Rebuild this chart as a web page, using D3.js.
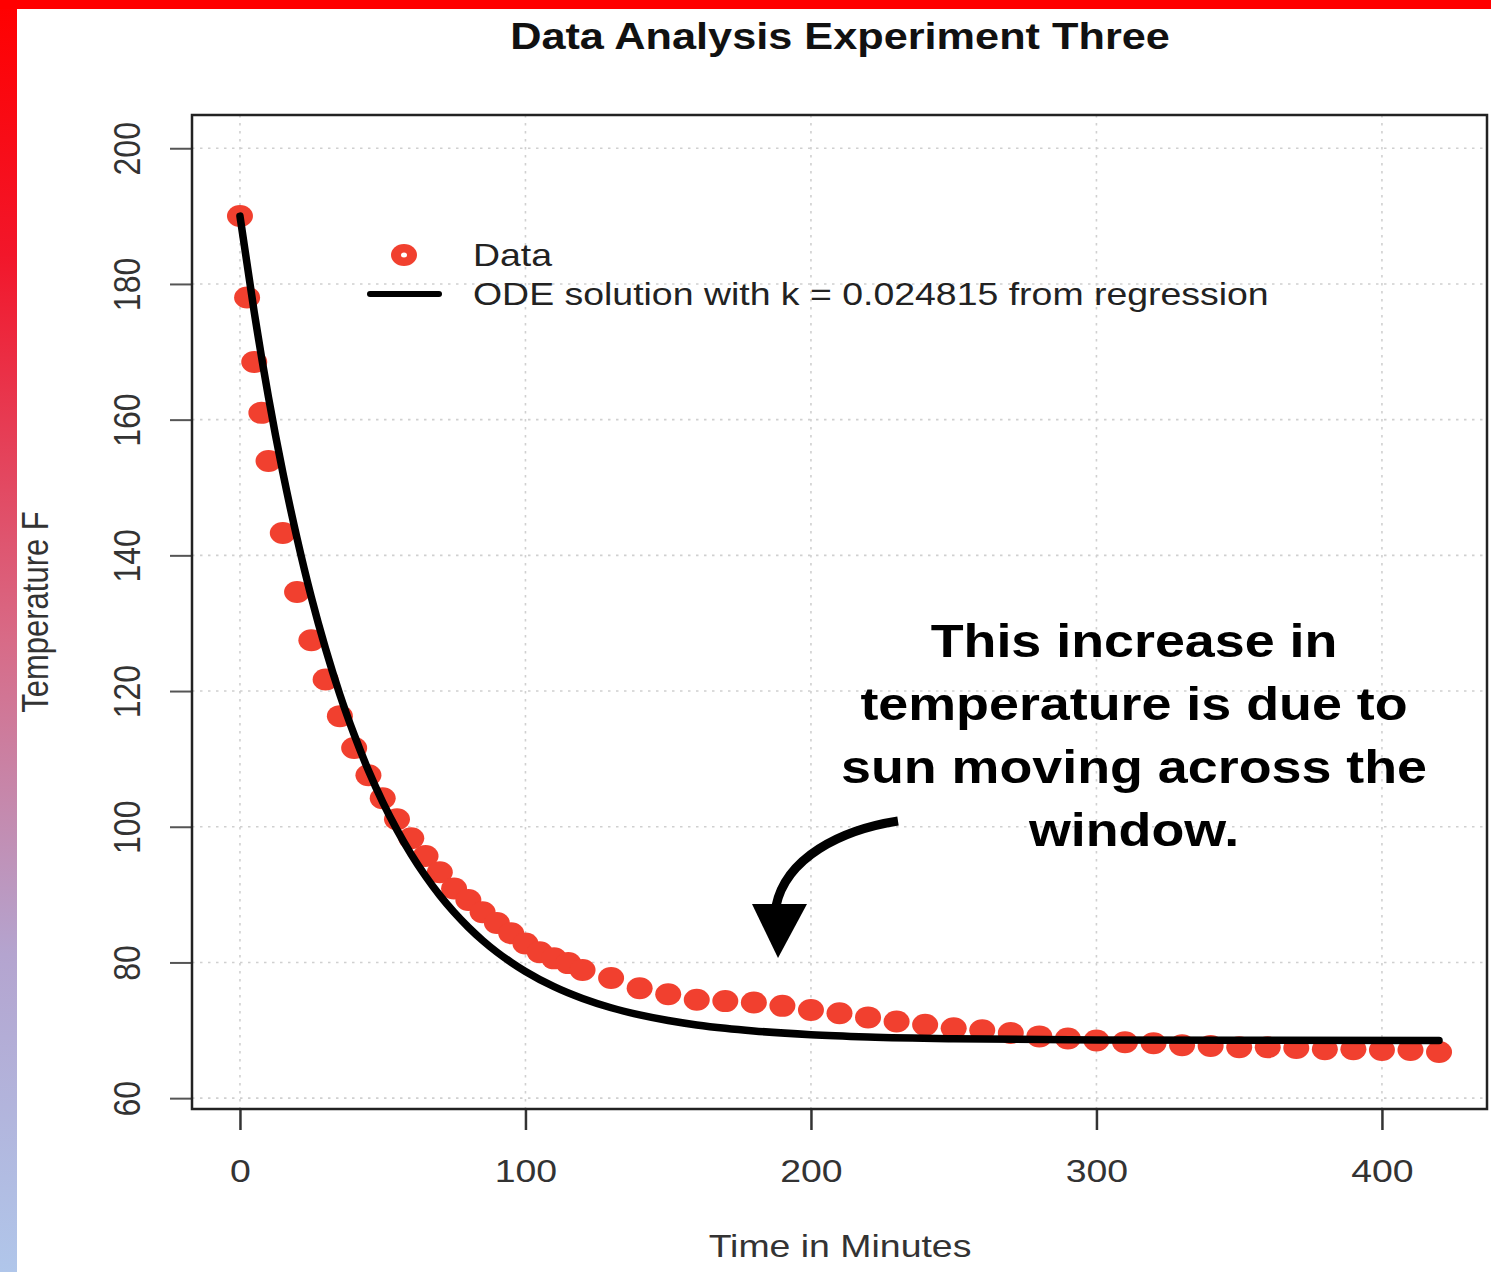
<!DOCTYPE html>
<html>
<head>
<meta charset="utf-8">
<script src="https://cdn.jsdelivr.net/npm/d3@7"></script>
<style>
  html, body { margin: 0; padding: 0; background: #fff; }
  svg { display: block; }
  text { font-family: "Liberation Sans", Arial, Helvetica, sans-serif; }
</style>
</head>
<body>
<div id="wrapper1"></div>
<script>
(function() {
  // measured temperatures (minutes, deg F)
  var times = [0, 2.5, 5, 7.5, 10, 15, 20, 25, 30, 35, 40, 45, 50, 55, 60, 65, 70, 75, 80, 85, 90, 95, 100, 105, 110, 115, 120,
    130, 140, 150, 160, 170, 180, 190, 200, 210, 220, 230, 240, 250, 260, 270, 280, 290, 300, 310, 320, 330, 340, 350, 360,
    370, 380, 390, 400, 410, 420];
  var temps = [190.0, 178.0, 168.5, 161.0, 153.9, 143.3, 134.6, 127.5, 121.7, 116.3, 111.6, 107.6, 104.2, 101.1, 98.3, 95.7,
    93.3, 90.9, 89.2, 87.4, 85.8, 84.3, 82.8, 81.5, 80.6, 79.9, 78.9,
    77.7, 76.2, 75.3, 74.5, 74.3, 74.1, 73.6, 73.0, 72.5, 71.9, 71.3, 70.8, 70.3, 70.0, 69.6, 69.1, 68.8, 68.5, 68.25, 68.1,
    67.8, 67.7, 67.5, 67.5, 67.4, 67.2, 67.2, 67.1, 67.1, 66.8];

  // ODE solution curve
  var odeTimes = [0, 5, 10, 15, 20, 25, 30, 35, 40, 45, 50, 55, 60, 65, 70, 75, 80, 85, 90, 95, 100, 110, 120, 130, 140, 150,
    160, 170, 180, 200, 220, 250, 300, 350, 420];
  var odeTemps = [190.0, 175.83, 163.27, 152.24, 142.51, 133.83, 126.22, 119.48, 113.57, 108.28, 103.63, 99.54, 95.91, 92.72,
    89.88, 87.39, 85.19, 83.24, 81.52, 80.01, 78.66, 76.42, 74.68, 73.32, 72.27, 71.44, 70.79, 70.29, 69.90, 69.35, 69.02,
    68.75, 68.57, 68.52, 68.50];

  var xTicks = [0, 100, 200, 300, 400];
  var yTicks = [60, 80, 100, 120, 140, 160, 180, 200];

  var title = "Data Analysis Experiment Three";
  var xLabel = "Time in Minutes";
  var yLabel = "Temperature F";
  var legendLabels = ["Data", "ODE solution with k = 0.024815 from regression"];
  var noteLines = ["This increase in", "temperature is due to", "sun moving across the", "window."];

  var W = 1491, H = 1272;
  var SX = 1.17; // the picture is stretched sideways
  var red = "#f1402f";

  var svg = d3.select("#wrapper1").append("svg")
    .attr("width", W).attr("height", H)
    .attr("xmlns", "http://www.w3.org/2000/svg");

  // frame: red top band, red to blue strip on the left
  var defs = svg.append("defs");
  var grad = defs.append("linearGradient").attr("id", "side").attr("x1", 0).attr("y1", 0).attr("x2", 0).attr("y2", 1);
  grad.append("stop").attr("offset", "0").attr("stop-color", "#ff0000");
  grad.append("stop").attr("offset", "0.2").attr("stop-color", "#f2162a");
  grad.append("stop").attr("offset", "0.5").attr("stop-color", "#d86a86");
  grad.append("stop").attr("offset", "0.75").attr("stop-color", "#b4a4cf");
  grad.append("stop").attr("offset", "1").attr("stop-color", "#b0c6ea");
  svg.append("rect").attr("x", 0).attr("y", 0).attr("width", 17).attr("height", H).style("fill", "url(#side)");
  svg.append("rect").attr("x", 0).attr("y", 0).attr("width", W).attr("height", 9).style("fill", "#ff0000");

  var left = 192, right = 1487, top = 115, bottom = 1109;
  var xPad = (d3.max(times) - d3.min(times)) * 0.04;
  var x = d3.scaleLinear().domain([d3.min(times) - xPad, d3.max(times) + xPad]).range([left, right]);
  var y = d3.scaleLinear().domain([58.4, 204.9]).range([bottom, top]);

  // dotted grid
  var grid = svg.append("g").attr("class", "grid");
  grid.selectAll("line.gx").data(xTicks).enter().append("line")
    .attr("x1", function(d) { return x(d); }).attr("x2", function(d) { return x(d); })
    .attr("y1", top).attr("y2", bottom);
  grid.selectAll("line.gy").data(yTicks).enter().append("line")
    .attr("y1", function(d) { return y(d); }).attr("y2", function(d) { return y(d); })
    .attr("x1", left).attr("x2", right);
  grid.selectAll("line").style("stroke", "#d0d0d0").style("stroke-width", 1.6).style("stroke-dasharray", "2.5,5.5");

  // axes
  var xAxis = svg.append("g").attr("transform", "translate(0," + bottom + ")")
    .call(d3.axisBottom(x).tickValues(xTicks).tickSize(21).tickSizeOuter(0));
  xAxis.select(".domain").remove();
  xAxis.selectAll(".tick line").style("stroke", "#333").style("stroke-width", 2.5);
  xAxis.selectAll(".tick text")
    .attr("y", 73).attr("dy", 0)
    .attr("transform", "scale(" + SX + ",1)")
    .style("font-size", "32px").style("fill", "#333");

  var yAxis = svg.append("g").attr("transform", "translate(" + left + ",0)")
    .call(d3.axisLeft(y).tickValues(yTicks).tickSize(22).tickSizeOuter(0));
  yAxis.select(".domain").remove();
  yAxis.selectAll(".tick line").style("stroke", "#555").style("stroke-width", 2);
  yAxis.selectAll(".tick text")
    .attr("x", 0).attr("y", 0).attr("dy", 0)
    .attr("text-anchor", "middle")
    .attr("transform", "translate(-52,0) scale(" + SX + ",1) rotate(-90)")
    .style("font-size", "32px").style("fill", "#333");

  // points, then the model line over them
  var pts = times.map(function(t, i) { return {t: t, v: temps[i]}; });
  svg.append("g").selectAll("ellipse").data(pts).enter().append("ellipse")
    .attr("cx", function(d) { return x(d.t); })
    .attr("cy", function(d) { return y(d.v); })
    .attr("rx", 13).attr("ry", 11)
    .style("fill", red);

  var ode = odeTimes.map(function(t, i) { return {t: t, v: odeTemps[i]}; });
  var line = d3.line()
    .x(function(d) { return x(d.t); })
    .y(function(d) { return y(d.v); })
    .curve(d3.curveMonotoneX);
  svg.append("path").datum(ode).attr("d", line)
    .style("fill", "none").style("stroke", "#000").style("stroke-width", 7.5).style("stroke-linecap", "round");

  // box
  svg.append("rect").attr("x", left).attr("y", top).attr("width", right - left).attr("height", bottom - top)
    .style("fill", "none").style("stroke", "#222").style("stroke-width", 2.5);

  function stretchText(px, py, str, size, weight, anchor, rot) {
    return svg.append("text")
      .attr("transform", "translate(" + px + "," + py + ") scale(" + SX + ",1)" + (rot ? " rotate(" + rot + ")" : ""))
      .attr("text-anchor", anchor)
      .style("font-size", size + "px").style("font-weight", weight)
      .text(str);
  }

  stretchText(840, 49, title, 37, "bold", "middle").style("fill", "#111");
  stretchText(840, 1257, xLabel, 32, "normal", "middle").style("fill", "#333");
  stretchText(48, 612, yLabel, 31, "normal", "middle", -90).style("fill", "#333");

  // legend
  svg.append("ellipse").attr("cx", 404).attr("cy", 255).attr("rx", 13).attr("ry", 11).style("fill", red);
  svg.append("ellipse").attr("cx", 404).attr("cy", 255).attr("rx", 3).attr("ry", 2.5).style("fill", "#fff");
  svg.append("line").attr("x1", 370).attr("x2", 439).attr("y1", 294).attr("y2", 294)
    .style("stroke", "#000").style("stroke-width", 6).style("stroke-linecap", "round");
  stretchText(473, 266, legendLabels[0], 32, "normal", "start").style("fill", "#222");
  stretchText(473, 305, legendLabels[1], 32, "normal", "start").style("fill", "#222");

  // annotation
  noteLines.forEach(function(s, i) {
    stretchText(1134, 657 + i * 63, s, 46, "bold", "middle").style("fill", "#000");
  });
  svg.append("path")
    .attr("d", "M898,821 C840,830 786,858 776,906")
    .style("fill", "none").style("stroke", "#000").style("stroke-width", 9);
  svg.append("polygon")
    .attr("points", "752,904 807,904 778,958")
    .style("fill", "#000");
}());
</script>
</body>
</html>
